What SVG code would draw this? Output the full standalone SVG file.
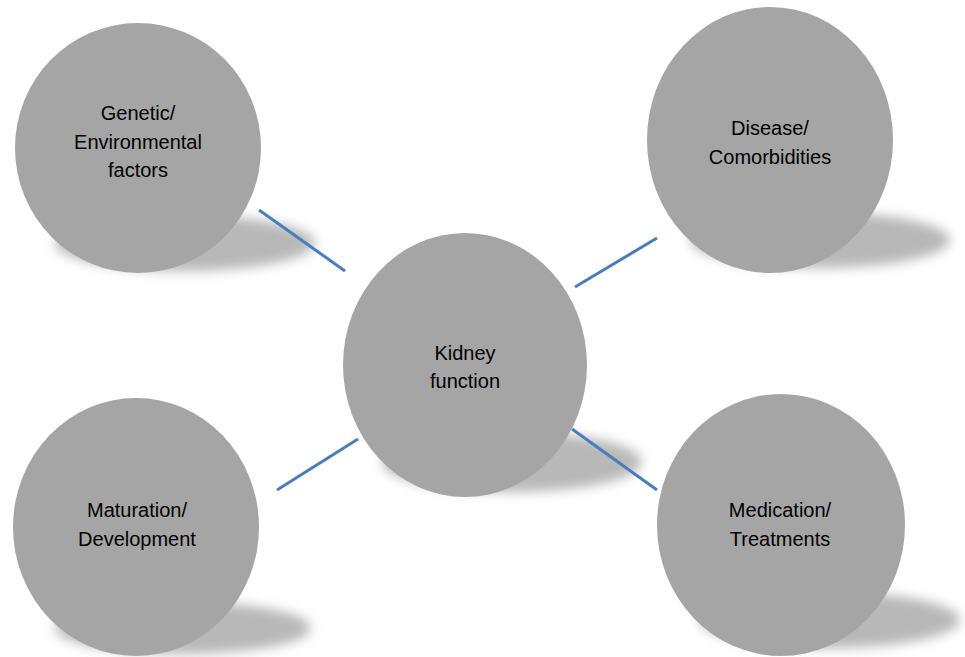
<svg xmlns="http://www.w3.org/2000/svg" width="965" height="657" viewBox="0 0 965 657">
<style>
.c{fill:#a5a5a5}
.sh{fill:#b8b8b8;filter:url(#blur)}
.t{font-family:"Liberation Sans",Arial,sans-serif;font-size:20px;fill:#000;text-anchor:middle}
.ln{stroke:#4a7ebb;stroke-width:3;fill:none}
</style>
<defs>
<filter id="blur" x="-30%" y="-100%" width="160%" height="300%"><feGaussianBlur stdDeviation="6"/></filter>
</defs>
<rect width="965" height="657" fill="#fff"/>
<g id="shadows">
<ellipse class="sh" cx="185" cy="243" rx="130" ry="28"/>
<ellipse class="sh" cx="820" cy="240" rx="130" ry="28"/>
<ellipse class="sh" cx="512" cy="462" rx="130" ry="30"/>
<ellipse class="sh" cx="183" cy="628" rx="128" ry="26"/>
<ellipse class="sh" cx="830" cy="620" rx="130" ry="28"/>
</g>
<g id="connectors">
<line class="ln" x1="259" y1="210" x2="345" y2="271"/>
<line class="ln" x1="575" y1="287" x2="657" y2="238"/>
<line class="ln" x1="277" y1="490" x2="358" y2="439"/>
<line class="ln" x1="572" y1="429" x2="657" y2="490"/>
</g>
<g id="genetic">
<ellipse class="c" cx="138" cy="148" rx="123" ry="125"/>
<text class="t" x="138" y="120">Genetic/</text>
<text class="t" x="138" y="149">Environmental</text>
<text class="t" x="138" y="177">factors</text>
</g>
<g id="disease">
<ellipse class="c" cx="770" cy="140" rx="123" ry="133"/>
<text class="t" x="770" y="135">Disease/</text>
<text class="t" x="770" y="164">Comorbidities</text>
</g>
<g id="kidney">
<ellipse class="c" cx="465" cy="365" rx="122" ry="132"/>
<text class="t" x="465" y="360">Kidney</text>
<text class="t" x="465" y="388">function</text>
</g>
<g id="maturation">
<ellipse class="c" cx="136" cy="527" rx="123" ry="129"/>
<text class="t" x="137" y="517">Maturation/</text>
<text class="t" x="137" y="546">Development</text>
</g>
<g id="medication">
<ellipse class="c" cx="781" cy="525" rx="124" ry="131"/>
<text class="t" x="780" y="517">Medication/</text>
<text class="t" x="780" y="546">Treatments</text>
</g>
</svg>
